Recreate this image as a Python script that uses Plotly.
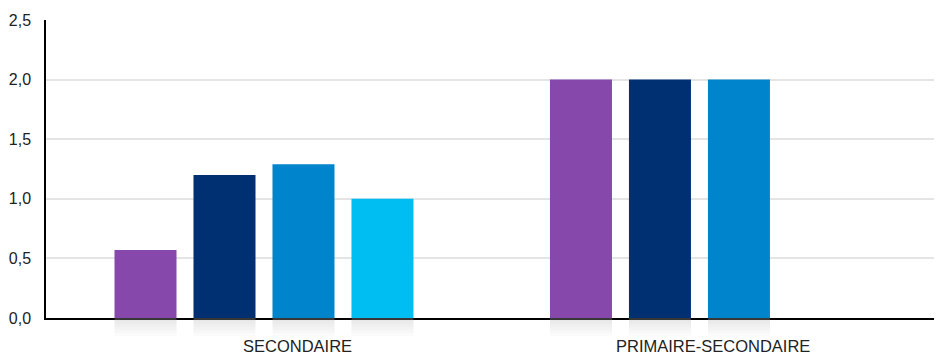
import plotly.graph_objects as go

categories = ["SECONDAIRE", "PRIMAIRE-SECONDAIRE"]
series_names = ["Série 1", "Série 2", "Série 3", "Série 4"]
series_values = [
    [0.57, 2.0],
    [1.20, 2.0],
    [1.29, 2.0],
    [1.00, None],
]
colors = ["#8649AB", "#003072", "#0085CC", "#00BEF2"]
y_ticks = [0, 0.5, 1.0, 1.5, 2.0, 2.5]

fig = go.Figure()

# main bars
for i, (name, vals) in enumerate(zip(series_names, series_values)):
    fig.add_trace(go.Bar(
        x=categories, y=vals, name=name, offsetgroup=str(i),
        marker=dict(color=colors[i], line=dict(width=0)),
        xaxis="x", yaxis="y", hoverinfo="skip",
    ))

# soft reflections under bars (gradient approximated by overlapping layers)
layers = [18, 15, 12, 9, 6, 3]
for i, vals in enumerate(series_values):
    for L in layers:
        fig.add_trace(go.Bar(
            x=categories, y=[(-L if v is not None else None) for v in vals],
            offsetgroup=str(i), showlegend=False,
            marker=dict(color="rgb(185,188,194)", line=dict(width=0)),
            opacity=0.06, xaxis="x", yaxis="y2", hoverinfo="skip",
        ))

# page body has an 8px default margin -> compensate
split = 1 - 298 / 338
fig.update_layout(
    width=934, height=350,
    margin=dict(l=38, r=0, t=12, b=0, autoexpand=False),
    paper_bgcolor="white", plot_bgcolor="white",
    barmode="group", bargap=0.2744, bargroupgap=0.215,
    separators=", ",
    showlegend=False,
    font=dict(family="Liberation Sans, Arial, Helvetica, sans-serif", size=16, color="#222222"),
    xaxis=dict(
        type="category", range=[-0.5006, 1.557], anchor="y", automargin=False,
        showticklabels=False, showgrid=False, zeroline=False,
        showline=True, linecolor="black", linewidth=2, ticks="",
    ),
    yaxis=dict(
        domain=[split, 1], range=[0, 2.5], tickvals=y_ticks, tickformat=".1f",
        showgrid=True, gridcolor="#e4e4e4", gridwidth=2, automargin=False,
        zeroline=False, showline=True, linecolor="black", linewidth=1.5,
        ticks="", ticklabelstandoff=10, anchor="x",
        tickfont=dict(size=16, color="#222222"),
    ),
    yaxis2=dict(
        domain=[0, split], range=[-40, 0], anchor="x", automargin=False,
        showticklabels=False, showgrid=False, zeroline=False, showline=False,
    ),
)

label_offsets = [0.0758, 0.031]
for i, cat in enumerate(categories):
    fig.add_annotation(
        x=i + label_offsets[i], xref="x", y=(350 - 338) / 338, yref="paper",
        text=cat, showarrow=False, xanchor="center", yanchor="middle",
        font=dict(size=16.5, color="#222222"),
    )

fig.write_html("out.html")
